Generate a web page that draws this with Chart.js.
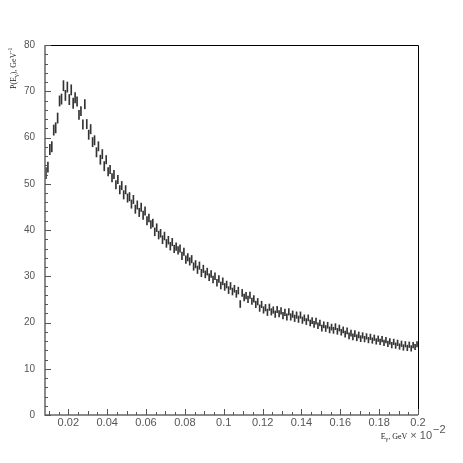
<!DOCTYPE html>
<html><head><meta charset="utf-8">
<script src="https://cdn.jsdelivr.net/npm/chart.js@4"></script>
<style>html,body{margin:0;padding:0;background:#fff}#wrap{width:463px;height:463px}</style>
</head><body><div id="wrap"><canvas id="c" width="463" height="463"></canvas></div>
<script>
// Histogram definition: E_gamma (GeV x 10^-2), bins of 0.001 from 0.008 to 0.2
const histLow = 0.008;
const histHigh = 0.2;
const binWidth = 0.001;

// Bin contents P(E_gamma), GeV^-1
const counts = [
  52.3, 53.6, 57.4, 58.0, 61.6, 62.1, 64.2, 67.9, 68.3, 71.2,
  69.1, 70.9, 68.2, 70.3, 67.4, 68.6, 67.8, 64.9, 65.7, 62.8,
  67.2, 62.9, 60.6, 61.8, 59.0, 59.4, 56.8, 58.1, 55.2, 56.4,
  53.8, 55.2, 52.6, 53.1, 51.3, 52.0, 49.8, 50.9, 48.7, 49.6,
  47.6, 48.7, 46.9, 47.2, 45.6, 46.6, 44.5, 45.4, 43.8, 44.9,
  43.2, 44.1, 42.0, 42.6, 41.2, 41.5, 39.6, 40.5, 38.9, 39.3,
  37.9, 38.7, 37.1, 37.8, 36.5, 37.4, 35.9, 36.4, 35.6, 36.0,
  34.4, 35.3, 33.6, 34.1, 33.2, 33.7, 32.1, 32.6, 31.4, 32.3,
  30.7, 31.6, 30.4, 31.0, 29.8, 30.5, 29.3, 30.0, 28.6, 29.4,
  28.0, 28.9, 27.7, 28.2, 27.0, 27.9, 26.7, 27.3, 26.2, 26.9,
  24.0, 26.4, 25.4, 25.8, 25.0, 25.9, 24.6, 25.1, 23.9, 24.5,
  23.1, 23.9, 22.7, 23.2, 22.2, 23.3, 22.3, 22.7, 21.8, 22.8,
  21.9, 22.5, 21.5, 22.2, 21.2, 22.3, 21.2, 21.8, 20.9, 21.6,
  20.7, 21.6, 20.5, 21.0, 20.2, 21.0, 19.9, 20.4, 19.6, 20.3,
  19.3, 19.9, 18.8, 19.5, 18.7, 19.4, 18.4, 19.0, 18.3, 19.1,
  18.1, 18.8, 17.9, 18.4, 17.5, 18.2, 17.1, 17.7, 16.9, 17.6,
  16.7, 17.3, 16.5, 17.2, 16.4, 17.0, 16.2, 16.9, 16.1, 16.7,
  15.9, 16.5, 15.8, 16.4, 15.6, 16.2, 15.4, 15.9, 15.1, 15.8,
  15.0, 15.6, 14.8, 15.4, 14.6, 15.3, 14.5, 15.2, 14.4, 15.1, 14.7, 15.3
];

// Statistical errors per bin
const errors = [
  1.2, 1.1, 1.1, 1.1, 1.1, 1.1, 1.1, 1.1, 1.1, 1.1,
  1.1, 1.1, 1.1, 1.1, 1.1, 1.1, 1.0, 1.0, 1.0, 1.0,
  1.0, 1.0, 1.0, 1.0, 1.0, 1.0, 1.0, 1.0, 1.0, 1.0,
  1.0, 0.9, 0.9, 0.9, 0.9, 0.9, 0.9, 0.9, 0.9, 0.9,
  0.9, 0.9, 0.9, 0.9, 0.9, 0.9, 0.9, 0.9, 0.9, 0.9,
  0.9, 0.9, 0.9, 0.85, 0.85, 0.85, 0.85, 0.85, 0.85, 0.85,
  0.85, 0.85, 0.85, 0.85, 0.85, 0.8, 0.8, 0.8, 0.8, 0.8,
  0.8, 0.8, 0.8, 0.8, 0.8, 0.8, 0.8, 0.8, 0.8, 0.8,
  0.8, 0.8, 0.75, 0.75, 0.75, 0.75, 0.75, 0.75, 0.75, 0.75,
  0.75, 0.75, 0.75, 0.75, 0.75, 0.75, 0.75, 0.75, 0.75, 0.75,
  0.75, 0.75, 0.75, 0.7, 0.7, 0.7, 0.7, 0.7, 0.7, 0.7,
  0.7, 0.7, 0.7, 0.7, 0.7, 0.7, 0.7, 0.7, 0.7, 0.7,
  0.7, 0.7, 0.7, 0.7, 0.7, 0.7, 0.7, 0.7, 0.7, 0.7,
  0.7, 0.7, 0.7, 0.65, 0.65, 0.65, 0.65, 0.65, 0.65, 0.65,
  0.65, 0.65, 0.65, 0.65, 0.65, 0.65, 0.65, 0.65, 0.65, 0.65,
  0.65, 0.65, 0.65, 0.65, 0.65, 0.65, 0.65, 0.65, 0.65, 0.65,
  0.65, 0.65, 0.65, 0.6, 0.6, 0.6, 0.6, 0.6, 0.6, 0.6,
  0.6, 0.6, 0.6, 0.6, 0.6, 0.6, 0.6, 0.6, 0.6, 0.6,
  0.6, 0.6, 0.6, 0.6, 0.6, 0.6, 0.6, 0.6, 0.6, 0.6, 0.6, 0.6
];

const xTickValues = [0.02, 0.04, 0.06, 0.08, 0.1, 0.12, 0.14, 0.16, 0.18, 0.2];
const xTickLabels = ['0.02', '0.04', '0.06', '0.08', '0.1', '0.12', '0.14', '0.16', '0.18', '0.2'];
const yTickValues = [0, 10, 20, 30, 40, 50, 60, 70, 80];
const yTickLabels = ['0', '10', '20', '30', '40', '50', '60', '70', '80'];

const errorBars = counts.map((c, i) => ({ x: histLow + binWidth * (i + 0.5), y: [c - errors[i], c + errors[i]] }));

const rootFrame = {
  id: 'rootFrame',
  afterDatasetsDraw(chart) {
    const { ctx, chartArea: a, scales: { x, y } } = chart;
    ctx.save();
    ctx.strokeStyle = '#000'; ctx.lineWidth = 1;
    ctx.beginPath();
    ctx.moveTo(a.left, a.top + 0.5); ctx.lineTo(a.right + 0.5, a.top + 0.5); ctx.lineTo(a.right + 0.5, a.bottom);
    ctx.stroke();
    ctx.strokeStyle = '#666'; ctx.lineWidth = 1.5;
    ctx.beginPath();
    ctx.moveTo(a.left, a.top); ctx.lineTo(a.left, a.bottom); ctx.lineTo(a.right, a.bottom);
    ctx.stroke();
    ctx.strokeStyle = '#555'; ctx.lineWidth = 1;
    ctx.beginPath();
    for (let m = 2; m <= 40; m++) {
      const px = Math.round(x.getPixelForValue(m * 0.005)) + 0.5;
      const len = m % 4 === 0 ? 6 : (m % 2 === 0 ? 4 : 3);
      ctx.moveTo(px, a.bottom); ctx.lineTo(px, a.bottom - len);
    }
    for (let n = 0; n <= 40; n++) {
      const py = Math.round(y.getPixelForValue(n * 2)) + 0.5;
      const len = n % 5 === 0 ? 6 : 3;
      ctx.moveTo(a.left, py); ctx.lineTo(a.left + len, py);
    }
    ctx.stroke();
    ctx.restore();
  },
  afterDraw(chart) {
    const { ctx, chartArea: a } = chart;
    ctx.save();
    ctx.textBaseline = 'alphabetic';
    // x-axis title: E_γ, GeV × 10^-2
    const by = a.bottom + 24;
    const fSerif = '8px "Liberation Serif"', fSub = '6px "Liberation Serif"', fSans = '11px "Liberation Sans"';
    ctx.font = fSerif; const wE = ctx.measureText('E').width, wG = ctx.measureText(', GeV').width;
    ctx.font = fSub; const wg = ctx.measureText('γ').width;
    ctx.font = fSans; const wT = ctx.measureText('× 10').width;
    let cx = a.right + 14 - (wE + wg + wG + 3 + wT);
    ctx.fillStyle = '#222';
    ctx.font = fSerif; ctx.fillText('E', cx, by); cx += wE;
    ctx.font = fSub; ctx.fillText('γ', cx, by + 2); cx += wg;
    ctx.font = fSerif; ctx.fillText(', GeV', cx, by); cx += wG + 3;
    ctx.fillStyle = '#555';
    ctx.font = fSans; ctx.fillText('× 10', cx, by); cx += wT + 1;
    ctx.fillText('−2', cx, by - 6);
    // y-axis title: P(E_γ), GeV^-1 (rotated)
    ctx.fillStyle = '#222';
    ctx.translate(16, a.top + 44);
    ctx.rotate(-Math.PI / 2);
    let ty = 0;
    ctx.font = fSerif; ctx.fillText('P(E', ty, 0); ty += ctx.measureText('P(E').width;
    ctx.font = fSub; ctx.fillText('γ', ty, 2); ty += ctx.measureText('γ').width;
    ctx.font = fSerif; ctx.fillText('), GeV', ty, 0); ty += ctx.measureText('), GeV').width;
    ctx.font = fSub; ctx.fillText('-1', ty, -4);
    ctx.restore();
  }
};

new Chart(document.getElementById('c'), {
  type: 'bar',
  data: {
    datasets: [
      { data: errorBars, backgroundColor: '#333', borderWidth: 0, barThickness: 1, grouped: false }
    ]
  },
  options: {
    responsive: false,
    animation: false,
    devicePixelRatio: 1,
    layout: { padding: { left: 0, right: 45, top: 45, bottom: 0 } },
    plugins: { legend: { display: false }, tooltip: { enabled: false } },
    scales: {
      x: {
        type: 'linear', min: histLow, max: histHigh, offset: false,
        grid: { display: false, drawTicks: false }, border: { display: false },
        afterBuildTicks: s => { s.ticks = xTickValues.map(v => ({ value: v })); },
        afterFit: s => { s.height = 48; },
        ticks: { padding: 1, color: '#555', autoSkip: false, maxRotation: 0,
          font: { family: 'Liberation Sans', size: 11 },
          callback: (v, i) => xTickLabels[i] }
      },
      y: {
        type: 'linear', min: 0, max: 80,
        grid: { display: false, drawTicks: false }, border: { display: false },
        afterBuildTicks: s => { s.ticks = yTickValues.map(v => ({ value: v })); },
        afterFit: s => { s.width = 45; },
        ticks: { padding: 10, color: '#555', autoSkip: false,
          font: { family: 'Liberation Sans', size: 10 },
          callback: (v, i) => yTickLabels[i] }
      }
    }
  },
  plugins: [rootFrame]
});
</script>
</body></html>
